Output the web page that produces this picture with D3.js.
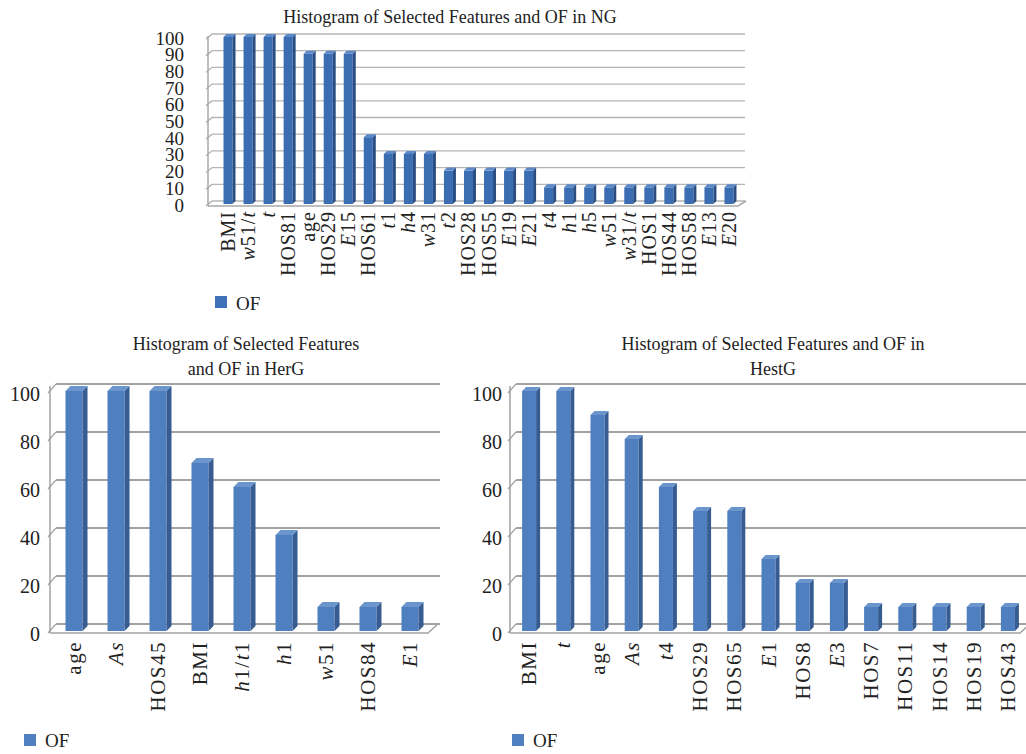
<!DOCTYPE html>
<html><head><meta charset="utf-8">
<script src="https://cdn.jsdelivr.net/npm/d3@7"></script>
<style>body{margin:0;background:#fff}svg{display:block}text{font-family:"Liberation Serif","Times New Roman",serif;fill:#222}</style>
</head><body>
<svg id="c" width="1026" height="754"></svg>
<script>
// ---- data ----
const ngCategories = ["BMI","w51/t","t","HOS81","age","HOS29","E15","HOS61","t1","h4","w31","t2","HOS28","HOS55","E19","E21","t4","h1","h5","w51","w31/t","HOS1","HOS44","HOS58","E13","E20"];
const ngValues = [100,100,100,100,90,90,90,40,30,30,30,20,20,20,20,20,10,10,10,10,10,10,10,10,10,10];
const ngTicks = [0,10,20,30,40,50,60,70,80,90,100];

const herCategories = ["age","As","HOS45","BMI","h1/t1","h1","w51","HOS84","E1"];
const herValues = [100,100,100,70,60,40,10,10,10];
const herTicks = [0,20,40,60,80,100];

const hestCategories = ["BMI","t","age","As","t4","HOS29","HOS65","E1","HOS8","E3","HOS7","HOS11","HOS14","HOS19","HOS43"];
const hestValues = [100,100,90,80,60,50,50,30,20,20,10,10,10,10,10];
const hestTicks = [0,20,40,60,80,100];

const seriesName = "OF";

// ---- drawing ----
const svg = d3.select("#c");
const uprightWords = ["BMI","HOS","age"];

function addLabel(sel, label){
  const up = uprightWords.find(w => label.startsWith(w));
  if (up){ sel.append("tspan").text(label); return; }
  const parts = label.match(/[A-Za-z]+|[0-9]+|\//g);
  parts.forEach(p => {
    const t = sel.append("tspan").text(p);
    if (/[A-Za-z]/.test(p)) t.attr("font-style","italic");
  });
}

function chart(cfg){
  const g = svg.append("g");
  const y = d3.scaleLinear().domain([0,100]).range([cfg.y0, cfg.y100]);
  const x = d3.scaleBand().domain(cfg.cats).range([cfg.xStart, cfg.xEnd]);
  const dx = cfg.dx, dy = cfg.dy;
  cfg.title.forEach((t,i)=>{
    g.append("text").attr("x",cfg.titleX).attr("y",cfg.titleY + i*cfg.titleLH)
      .attr("text-anchor","middle").attr("font-size",cfg.titleSize).text(t);
  });
  g.selectAll(".grid").data(cfg.ticks).join("line")
    .attr("x1",cfg.axisX+dx).attr("x2",cfg.gridEnd)
    .attr("y1",d=>y(d)-dy).attr("y2",d=>y(d)-dy)
    .attr("stroke",cfg.gridColor).attr("stroke-width",cfg.gridW);
  g.selectAll(".wt").data(cfg.ticks).join("line")
    .attr("x1",cfg.axisX-2).attr("x2",cfg.axisX+dx)
    .attr("y1",d=>y(d)+2).attr("y2",d=>y(d)-dy)
    .attr("stroke",cfg.axisColor).attr("stroke-width",1.2);
  g.append("line").attr("x1",cfg.axisX).attr("x2",cfg.axisX)
    .attr("y1",y(100)-dy+2).attr("y2",y(0)+2)
    .attr("stroke",cfg.axisColor).attr("stroke-width",1.5);
  g.append("path").attr("d",`M${cfg.axisX},${y(0)+2} L${cfg.floorEnd},${y(0)+2} L${cfg.floorEnd+dx+4},${y(0)-dy}`)
    .attr("fill","none").attr("stroke",cfg.axisColor).attr("stroke-width",1.5);
  g.selectAll(".tl").data(cfg.ticks).join("text")
    .attr("x",cfg.tickX).attr("y",d=>y(d)+cfg.tickOff)
    .attr("text-anchor","end").attr("dominant-baseline","central")
    .attr("font-size",cfg.tickSize).text(d=>d);
  const bw = cfg.barW, sd = cfg.side;
  const bars = g.selectAll(".bar").data(cfg.vals).join("g");
  bars.each(function(v,i){
    const gg = d3.select(this);
    const cx = x(cfg.cats[i]) + x.bandwidth()/2;
    const x0 = cx - bw/2, x1 = cx + bw/2, yt = y(v), yb = y(0);
    gg.append("rect").attr("x",x0).attr("y",yt).attr("width",bw).attr("height",yb-yt).attr("fill",cfg.front);
    gg.append("path").attr("d",`M${x1},${yt} L${x1+sd},${yt-sd} L${x1+sd},${yb-sd} L${x1},${yb}Z`).attr("fill",cfg.sideC);
    gg.append("path").attr("d",`M${x0},${yt} L${x0+sd},${yt-sd} L${x1+sd},${yt-sd} L${x1},${yt}Z`).attr("fill",cfg.topC);
  });
  cfg.cats.forEach((c,i)=>{
    const cx = x(c) + x.bandwidth()/2;
    const t = g.append("text").attr("transform",`translate(${cx+cfg.labDX},${cfg.labY}) rotate(-90)`)
      .attr("text-anchor","end").attr("dominant-baseline","central")
      .attr("font-size",cfg.labSize).attr("letter-spacing",cfg.labLS);
    addLabel(t, c);
  });
  g.append("rect").attr("x",cfg.legX).attr("y",cfg.legY).attr("width",12).attr("height",12).attr("fill",cfg.legC);
  g.append("text").attr("x",cfg.legX+21).attr("y",cfg.legY+cfg.legTY).attr("font-size",cfg.legSize).text(seriesName);
}

chart({cats:ngCategories, vals:ngValues, ticks:ngTicks,
  y0:204, y100:37, xStart:218, xEnd:739, axisX:208, dx:4, dy:3, gridEnd:745, floorEnd:738,
  gridColor:"#b4b4b4", gridW:1.3, axisColor:"#a8a8a8",
  tickX:184, tickOff:1, tickSize:19,
  barW:9, side:3, front:"#3b6db3", sideC:"#2a4e84", topC:"#5b88c8",
  labDX:0, labY:211, labSize:20, labLS:1,
  title:["Histogram of Selected Features and OF in NG"], titleX:450, titleY:23, titleLH:0, titleSize:18,
  legX:215, legY:296, legTY:14, legC:"#3f72b8", legSize:19});

chart({cats:herCategories, vals:herValues, ticks:herTicks,
  y0:631, y100:391, xStart:53, xEnd:431, axisX:50, dx:6, dy:7, gridEnd:440, floorEnd:428,
  gridColor:"#a2a2a2", gridW:2.2, axisColor:"#a2a2a2",
  tickX:40, tickOff:3, tickSize:20,
  barW:17, side:5, front:"#4f7fbf", sideC:"#365c92", topC:"#6b95cd",
  labDX:0, labY:641, labSize:21, labLS:1.5,
  title:["Histogram of Selected Features","and OF in HerG"], titleX:246, titleY:350, titleLH:25, titleSize:18,
  legX:24, legY:734, legTY:13, legC:"#4f7fbf", legSize:19});

chart({cats:hestCategories, vals:hestValues, ticks:hestTicks,
  y0:631, y100:391, xStart:512, xEnd:1025, axisX:510, dx:6, dy:7, gridEnd:1026, floorEnd:1020,
  gridColor:"#a2a2a2", gridW:2.2, axisColor:"#a2a2a2",
  tickX:502, tickOff:3, tickSize:20,
  barW:14, side:4, front:"#4f7fbf", sideC:"#365c92", topC:"#6b95cd",
  labDX:0, labY:641, labSize:21, labLS:1.5,
  title:["Histogram of Selected Features and OF in","HestG"], titleX:773, titleY:350, titleLH:25, titleSize:18,
  legX:512, legY:734, legTY:13, legC:"#4f7fbf", legSize:19});
</script>
</body></html>
